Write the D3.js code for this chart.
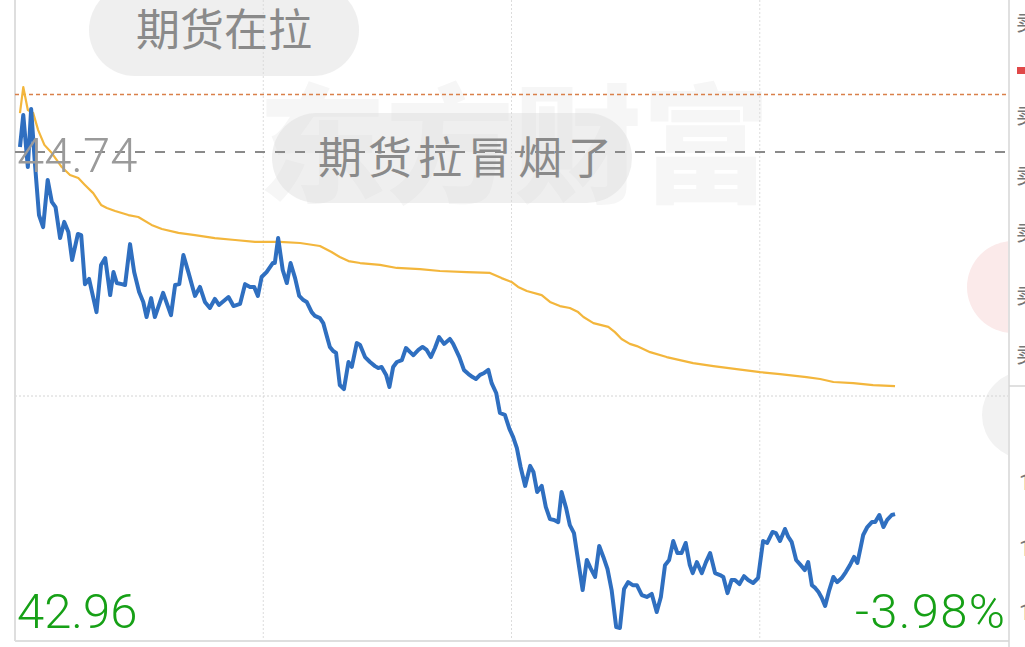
<!DOCTYPE html>
<html><head><meta charset="utf-8">
<script src="https://cdn.jsdelivr.net/npm/d3@7"></script>
<style>html,body{margin:0;padding:0;background:#fff;overflow:hidden}svg{display:block}</style>
</head><body>
<svg id="c" width="1025" height="647"></svg>
<script>
// ---- data ----
const priceMinutes = [1.2,2.0,3.1,3.9,4.8,5.8,6.8,7.9,8.9,9.8,10.9,11.9,12.9,13.8,15.2,16.0,16.9,17.9,19.7,20.8,21.8,23.0,23.8,24.6,25.8,26.6,27.8,28.8,30.0,31.0,31.8,32.9,33.8,35.8,37.7,38.7,39.7,40.7,41.9,43.5,44.7,45.9,47.1,48.3,49.3,51.6,52.8,54.4,55.6,56.8,57.8,58.7,59.6,60.8,62.3,62.8,63.6,64.7,65.7,66.6,67.7,68.7,69.7,70.5,71.7,72.5,73.7,74.5,75.3,76.1,76.9,77.6,78.5,79.5,80.6,81.4,82.6,83.4,84.6,85.8,87.0,87.8,88.6,89.7,90.5,91.4,92.3,93.5,94.5,95.5,96.3,97.5,98.5,99.5,100.5,101.5,102.5,103.7,105.1,105.9,107.4,108.5,109.6,110.6,111.4,112.4,113.4,114.4,115.2,116.3,117.2,118.4,119.5,120.4,121.3,122.2,123.3,124.5,125.3,126.2,127.3,128.3,129.3,130.3,131.3,132.1,133.2,134.1,135.1,135.9,137.2,138.2,139.1,140.2,141.2,142.2,143.2,144.2,145.3,146.2,147.2,148.2,149.3,150.3,151.5,152.7,153.9,155.1,156.1,157.1,158.1,159.1,160.1,161.1,162.1,163.1,163.8,164.8,166.0,167.0,168.0,169.2,170.4,171.2,172.2,173.2,174.0,175.1,176.2,177.2,178.4,179.6,180.8,181.8,183.1,183.9,184.9,186.1,186.9,187.7,188.8,189.9,190.9,191.7,192.6,193.4,194.2,195.0,195.8,196.8,197.8,198.7,199.8,200.8,201.8,202.8,203.6,204.4,205.0,206.0,207.1,207.9,208.9,209.9,210.8,211.9,212.7];
const priceValues = [44.758,44.875,44.685,44.897,44.700,44.510,44.466,44.638,44.558,44.539,44.426,44.485,44.448,44.346,44.441,44.437,44.258,44.277,44.156,44.328,44.353,44.218,44.302,44.262,44.258,44.255,44.404,44.302,44.229,44.193,44.138,44.207,44.138,44.226,44.145,44.255,44.258,44.364,44.302,44.215,44.248,44.193,44.171,44.204,44.182,44.211,44.178,44.186,44.258,44.248,44.248,44.215,44.284,44.302,44.335,44.335,44.426,44.310,44.262,44.335,44.280,44.215,44.200,44.193,44.156,44.142,44.134,44.116,44.072,44.029,44.014,44.007,43.890,43.875,43.974,43.956,44.043,44.036,43.992,43.974,43.959,43.952,43.956,43.927,43.883,43.956,43.974,43.981,44.025,44.010,43.999,44.018,44.029,44.018,43.992,44.025,44.065,44.040,44.058,44.040,43.992,43.945,43.930,43.919,43.912,43.927,43.934,43.945,43.897,43.861,43.788,43.781,43.730,43.700,43.660,43.591,43.522,43.595,43.573,43.500,43.522,43.445,43.401,43.398,43.390,43.500,43.441,43.379,43.350,43.270,43.142,43.252,43.222,43.190,43.303,43.263,43.219,43.142,43.007,43.004,43.146,43.171,43.160,43.160,43.124,43.117,43.128,43.062,43.117,43.233,43.252,43.321,43.277,43.277,43.314,43.233,43.204,43.244,43.204,43.244,43.277,43.204,43.197,43.190,43.131,43.179,43.179,43.164,43.193,43.179,43.168,43.186,43.321,43.314,43.354,43.350,43.321,43.365,43.336,43.318,43.252,43.233,43.215,43.244,43.160,43.150,43.135,43.113,43.084,43.142,43.190,43.171,43.186,43.208,43.233,43.263,43.241,43.299,43.343,43.372,43.390,43.390,43.416,43.372,43.398,43.416,43.419];
const avgMinutes = [1.2,2.0,3.1,4.4,5.6,7.1,8.9,11.3,13.3,15.3,16.9,18.9,20.8,22.2,24.2,27.4,29.8,33.0,35.5,39.5,43.5,48.3,53.2,58.0,64.0,68.9,73.7,76.5,78.5,80.6,83.4,88.2,92.3,97.9,102.7,109.2,114.8,117.6,120.0,121.6,123.7,127.3,129.3,131.7,134.1,136.1,137.4,139.8,143.4,145.0,146.6,148.6,150.3,153.5,157.5,160.7,163.9,168.8,174.4,180.1,184.9,191.3,194.6,197.8,202.6,207.4,212.7];
const avgValues = [44.882,44.977,44.893,44.882,44.820,44.766,44.736,44.685,44.656,44.645,44.620,44.590,44.547,44.536,44.525,44.510,44.503,44.474,44.459,44.445,44.437,44.426,44.419,44.412,44.412,44.408,44.397,44.375,44.357,44.342,44.335,44.328,44.317,44.313,44.306,44.302,44.299,44.280,44.266,44.248,44.233,44.218,44.193,44.178,44.171,44.156,44.138,44.116,44.102,44.083,44.058,44.040,44.032,44.010,43.992,43.981,43.970,43.959,43.948,43.937,43.930,43.919,43.912,43.901,43.897,43.890,43.886];
const prevClose = 44.74;
const axisLow = 42.96;
const highMark = 44.95;
const lowPctLabel = "-3.98%";
const gridMinutes = [60, 120, 180];
const totalMinutes = 240;
const watermark = "东方财富";
const comments = ["期货在拉", "期货拉冒烟了"];
const bookChars = ["卖","卖","卖","卖","卖","卖"];

// ---- drawing ----
const svg = d3.select("#c");
const W = 1025, H = 647;
const x = d3.scaleLinear().domain([0, totalMinutes]).range([15, 1008]);
const y = d3.scaleLinear().domain([axisLow, prevClose]).range([640, 152]);
const CJK = "'Noto Sans CJK SC','Noto Sans',sans-serif";
const NUM = "Roboto,'Noto Sans',sans-serif";

svg.append("rect").attr("width", W).attr("height", H).attr("fill", "#fff");

// watermark
svg.append("text").attr("x", 258).attr("y", 193).attr("font-family", CJK).attr("font-weight", 900)
  .attr("font-size", 128).attr("fill", "#f6f6f6").attr("textLength", 512).attr("lengthAdjust","spacingAndGlyphs")
  .text(watermark);

// right-side decorative circles (clipped at panel border)
const defs = svg.append("defs");
defs.append("clipPath").attr("id", "plotClip").append("rect").attr("x", 0).attr("y", 0).attr("width", 1008).attr("height", H);
const deco = svg.append("g").attr("clip-path", "url(#plotClip)");
deco.append("circle").attr("cx", 1013).attr("cy", 287).attr("r", 46).attr("fill", "#fbeaea");
deco.append("circle").attr("cx", 1026).attr("cy", 415).attr("r", 44).attr("fill", "#f2f2f2");

// grid
const grid = svg.append("g");
grid.selectAll("line.v").data(gridMinutes).join("line")
  .attr("x1", d => x(d)).attr("x2", d => x(d)).attr("y1", 0).attr("y2", 640)
  .attr("stroke", "#dcdcdc").attr("stroke-width", 1).attr("stroke-dasharray", "2,2");
grid.append("line").attr("x1", x(0)).attr("x2", x(totalMinutes)).attr("y1", y((prevClose + axisLow) / 2)).attr("y2", y((prevClose + axisLow) / 2))
  .attr("stroke", "#d4d4d4").attr("stroke-width", 1).attr("stroke-dasharray", "2,2");
// borders
grid.append("line").attr("x1", x(0)).attr("x2", x(0)).attr("y1", 0).attr("y2", 641).attr("stroke", "#dedede").attr("stroke-width", 2);
grid.append("line").attr("x1", x(0)).attr("x2", 1009).attr("y1", 641).attr("y2", 641).attr("stroke", "#dedede").attr("stroke-width", 2);
grid.append("line").attr("x1", 1009).attr("x2", 1009).attr("y1", 0).attr("y2", H).attr("stroke", "#d6d6d6").attr("stroke-width", 1.5);
grid.append("line").attr("x1", 1009).attr("x2", W).attr("y1", 386).attr("y2", 386).attr("stroke", "#d6d6d6").attr("stroke-width", 1.5);

// comment bubbles
function bubble(cx, cy, w, h) {
  const g = svg.append("g");
  g.append("rect").attr("x", cx - w / 2).attr("y", cy - h / 2).attr("width", w).attr("height", h)
    .attr("rx", h / 2).attr("fill", "#d9d9d9").attr("fill-opacity", 0.42);
  return g;
}
const b1 = bubble(224, 30, 270, 92);
const b2 = bubble(452, 158, 360, 90);

// reference lines
svg.append("line").attr("x1", x(0)).attr("x2", 1005).attr("y1", y(prevClose)).attr("y2", y(prevClose))
  .attr("stroke", "#8a8a8a").attr("stroke-width", 2).attr("stroke-dasharray", "10,10");
svg.append("line").attr("x1", x(0)).attr("x2", 1008).attr("y1", y(highMark)).attr("y2", y(highMark))
  .attr("stroke", "#d9804a").attr("stroke-width", 1.4).attr("stroke-dasharray", "4,3");

// lines
const avgData = avgMinutes.map((m, i) => [m, avgValues[i]]);
const priceData = priceMinutes.map((m, i) => [m, priceValues[i]]);
const line = d3.line().x(d => x(d[0])).y(d => y(d[1]));
svg.append("path").attr("d", line(avgData)).attr("fill", "none").attr("stroke", "#f3b63c").attr("stroke-width", 2.2).attr("stroke-linejoin", "round");
svg.append("path").attr("d", line(priceData)).attr("fill", "none").attr("stroke", "#2f6fc0").attr("stroke-width", 4).attr("stroke-linejoin", "round");

// labels
svg.append("text").attr("x", 17).attr("y", y(prevClose) + 20).attr("font-family", NUM).attr("font-weight", 300)
  .attr("font-size", 49).attr("fill", "#9a9a9a").text(prevClose.toFixed(2));
svg.append("text").attr("x", 17).attr("y", 628).attr("font-family", NUM).attr("font-weight", 300)
  .attr("font-size", 49).attr("fill", "#16a016").text(axisLow.toFixed(2));
svg.append("text").attr("x", 1005).attr("y", 628).attr("text-anchor", "end").attr("font-family", NUM).attr("font-weight", 300)
  .attr("font-size", 49).attr("fill", "#16a016").attr("textLength", 150).attr("lengthAdjust", "spacing").text(lowPctLabel);

// bubble texts
b1.append("text").attr("x", 224).attr("y", 46).attr("text-anchor", "middle").attr("font-family", CJK)
  .attr("font-size", 44).attr("fill", "#8a8a8a").text(comments[0]);
b2.append("text").attr("x", 465).attr("y", 174).attr("text-anchor", "middle").attr("font-family", CJK)
  .attr("font-size", 44).attr("fill", "#8a8a8a").attr("textLength", 294).attr("lengthAdjust", "spacing").text(comments[1]);

// order-book fragments at the right edge (cut off by the window)
const bookY = [30, 123, 183, 240, 303, 362];
svg.selectAll("text.book").data(bookY).join("text").attr("class", "book")
  .attr("x", 1016).attr("y", d => d).attr("font-family", CJK).attr("font-size", 22).attr("fill", "#777")
  .text((d, i) => bookChars[i]);
svg.append("rect").attr("x", 1017).attr("y", 67).attr("width", 8).attr("height", 7).attr("fill", "#e04848");
svg.selectAll("text.book2").data([490, 556, 620]).join("text").attr("class", "book2")
  .attr("x", 1019).attr("y", d => d).attr("font-family", NUM).attr("font-size", 22).attr("fill", "#777").text("1");
</script>
</body></html>
